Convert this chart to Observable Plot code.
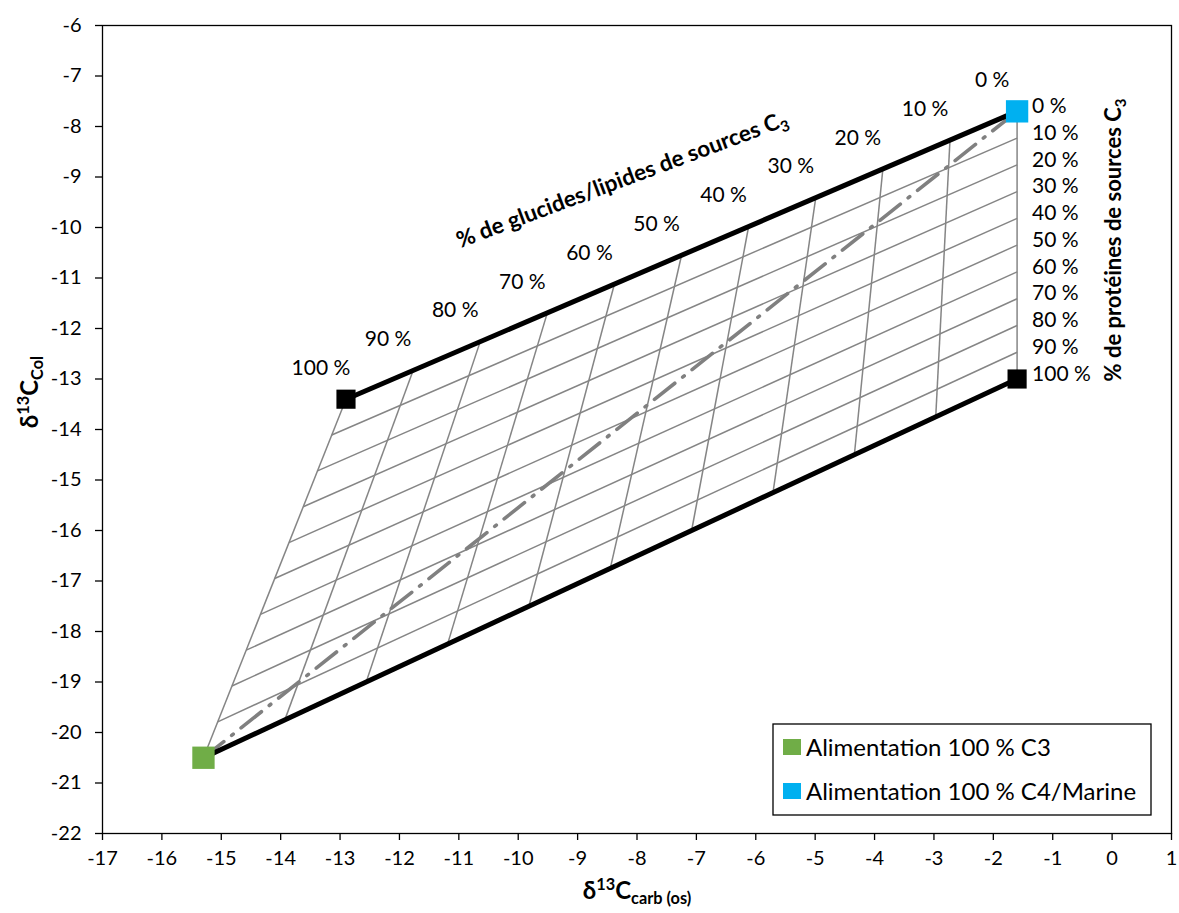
<!DOCTYPE html>
<html><head><meta charset="utf-8">
<script src="https://cdn.jsdelivr.net/npm/d3@7"></script>
<script src="https://cdn.jsdelivr.net/npm/@observablehq/plot@0.6"></script>
<style>
body{margin:0;background:#fff;}
#chart svg{font-family:Lato,"Open Sans",sans-serif;}
</style>
</head><body><div id="chart"></div>
<script>
// ---- data ----
const xTicks = [-17,-16,-15,-14,-13,-12,-11,-10,-9,-8,-7,-6,-5,-4,-3,-2,-1,0,1];
const yTicks = [-22,-21,-20,-19,-18,-17,-16,-15,-14,-13,-12,-11,-10,-9,-8,-7,-6];

// lines of constant % carbohydrate/lipid C3 (top edge point -> bottom edge point)
const carbPct  = [100,90,80,70,60,50,40,30,20,10,0];
const carbTopX = [-12.9,-11.77,-10.64,-9.51,-8.38,-7.25,-6.12,-4.99,-3.86,-2.73,-1.6];
const carbTopY = [-13.4,-12.83,-12.26,-11.69,-11.12,-10.55,-9.98,-9.41,-8.84,-8.27,-7.7];
const carbBotX = [-15.3,-13.93,-12.56,-11.19,-9.82,-8.45,-7.08,-5.71,-4.34,-2.97,-1.6];
const carbBotY = [-20.5,-19.75,-19.0,-18.25,-17.5,-16.75,-16.0,-15.25,-14.5,-13.75,-13.0];

// lines of constant % protein C3 (left edge point -> right edge point)
const protPct    = [0,10,20,30,40,50,60,70,80,90,100];
const protLeftX  = [-12.9,-13.14,-13.38,-13.62,-13.86,-14.1,-14.34,-14.58,-14.82,-15.06,-15.3];
const protLeftY  = [-13.4,-14.11,-14.82,-15.53,-16.24,-16.95,-17.66,-18.37,-19.08,-19.79,-20.5];
const protRightX = [-1.6,-1.6,-1.6,-1.6,-1.6,-1.6,-1.6,-1.6,-1.6,-1.6,-1.6];
const protRightY = [-7.7,-8.23,-8.76,-9.29,-9.82,-10.35,-10.88,-11.41,-11.94,-12.47,-13.0];

// diet end-members
const dietNames  = ["Alimentation 100 % C3","Alimentation 100 % C4/Marine"];
const dietX      = [-15.3,-1.6];
const dietY      = [-20.5,-7.7];
const dietColors = ["#70AD47","#00B0F0"];

// other corners (black squares)
const cornerX = [-12.9,-1.6];
const cornerY = [-13.4,-13.0];

// ---- build ----
const inner = protPct.map((d,i)=>i).filter(i=>i>0 && i<protPct.length-1);
const edges = [0, protPct.length-1];
const FS = 20;
const LFS = 21;

const plot = Plot.plot({
  width: 1179, height: 913,
  marginLeft: 102, marginRight: 8, marginTop: 25, marginBottom: 80,
  x: {domain: [-17, 1]},
  y: {domain: [-22, -6]},
  color: {type: "identity"},
  style: {fontSize: FS + "px", fontFamily: "Lato, 'Open Sans', sans-serif", color: "#000", background: "#fff"},
  marks: [
    Plot.frame({stroke: "#000", strokeWidth: 1.3}),
    Plot.axisX(xTicks, {tickSize: 7, tickPadding: 10, tickFormat: d => String(d), label: null, fontSize: FS, strokeWidth: 1.3}),
    Plot.axisY(yTicks, {tickSize: 7, tickPadding: 14, tickFormat: d => String(d), label: null, fontSize: FS, strokeWidth: 1.3}),
    // carb lines
    Plot.link(carbPct, {x1: carbTopX, y1: carbTopY, x2: carbBotX, y2: carbBotY, stroke: "#858585", strokeWidth: 1.5}),
    // inner protein lines
    Plot.link(inner, {x1: i => protLeftX[i], y1: i => protLeftY[i], x2: i => protRightX[i], y2: i => protRightY[i], stroke: "#858585", strokeWidth: 1.5}),
    // mixing line C3 -> C4
    Plot.link([0], {x1: () => dietX[0], y1: () => dietY[0], x2: () => dietX[1], y2: () => dietY[1],
      stroke: "#808080", strokeWidth: 3.6, strokeDasharray: "26,10,2,10", strokeLinecap: "round"}),
    // thick edges
    Plot.link(edges, {x1: i => protLeftX[i], y1: i => protLeftY[i], x2: i => protRightX[i], y2: i => protRightY[i], stroke: "#000", strokeWidth: 5}),
    // corner squares
    Plot.dot(cornerX, {x: cornerX, y: cornerY, symbol: "square", r: 10.8, fill: "#000", stroke: null}),
    Plot.dot(dietNames, {x: dietX, y: dietY, symbol: "square", r: 12.6, fill: dietColors, stroke: null}),
    // carb % labels
    Plot.text(carbPct, {x: carbTopX, y: carbTopY, text: d => `${d} %`, dx: -25, dy: -31, fontSize: LFS, fill: "#000"}),
    // protein % labels
    Plot.text(protPct, {x: protRightX, y: protRightY, text: d => `${d} %`, dx: 15, dy: -5, textAnchor: "start", fontSize: LFS, fill: "#000"})
  ]
});

document.getElementById("chart").appendChild(plot);
const svg = d3.select(plot);
const X = v => plot.scale("x").apply(v), Y = v => plot.scale("y").apply(v);

function rich(x, y, angle, parts, size, anchor) {
  const t = svg.append("text")
    .attr("transform", `translate(${x},${y}) rotate(${angle})`)
    .attr("text-anchor", anchor || "middle")
    .attr("font-weight", "bold")
    .attr("font-size", size)
    .attr("fill", "#000");
  let shift = 0;
  for (const [s, kind] of parts) {
    const target = kind === "sup" ? -0.38 * size : kind === "sub" ? 0.22 * size : 0;
    t.append("tspan").attr("dy", target - shift)
      .attr("font-size", kind ? size * 0.68 : size).text(s);
    shift = target;
  }
  return t;
}

// axis titles
rich(637, 899, 0, [["δ"], ["13", "sup"], ["C"], ["carb (os)", "sub"]], 24);
rich(38, 392, -90, [["δ"], ["13", "sup"], ["C"], ["Col", "sub"]], 24);
// right title
rich(1121, 240, -90, [["% de protéines de sources C"], ["3", "sub"]], 22);
// top slanted title (centre of baseline)
rich(X(-8.2), Y(-9.2), -20.5, [["% de glucides/lipides de sources C"], ["3", "sub"]], 22.5);

// legend box
const lg = svg.append("g").attr("text-anchor", "start");
lg.append("rect").attr("x", 773).attr("y", 724).attr("width", 378).attr("height", 91)
  .attr("fill", "#fff").attr("stroke", "#000").attr("stroke-width", 1.3);
dietNames.forEach((name, i) => {
  const yy = 747 + i * 44;
  lg.append("rect").attr("x", 783).attr("y", yy - 8).attr("width", 18).attr("height", 16).attr("fill", dietColors[i]);
  lg.append("text").attr("x", 806).attr("y", yy).attr("dy", "0.36em").attr("text-anchor", "start")
    .attr("font-size", 24).attr("fill", "#000").text(name);
});
</script>
</body></html>
